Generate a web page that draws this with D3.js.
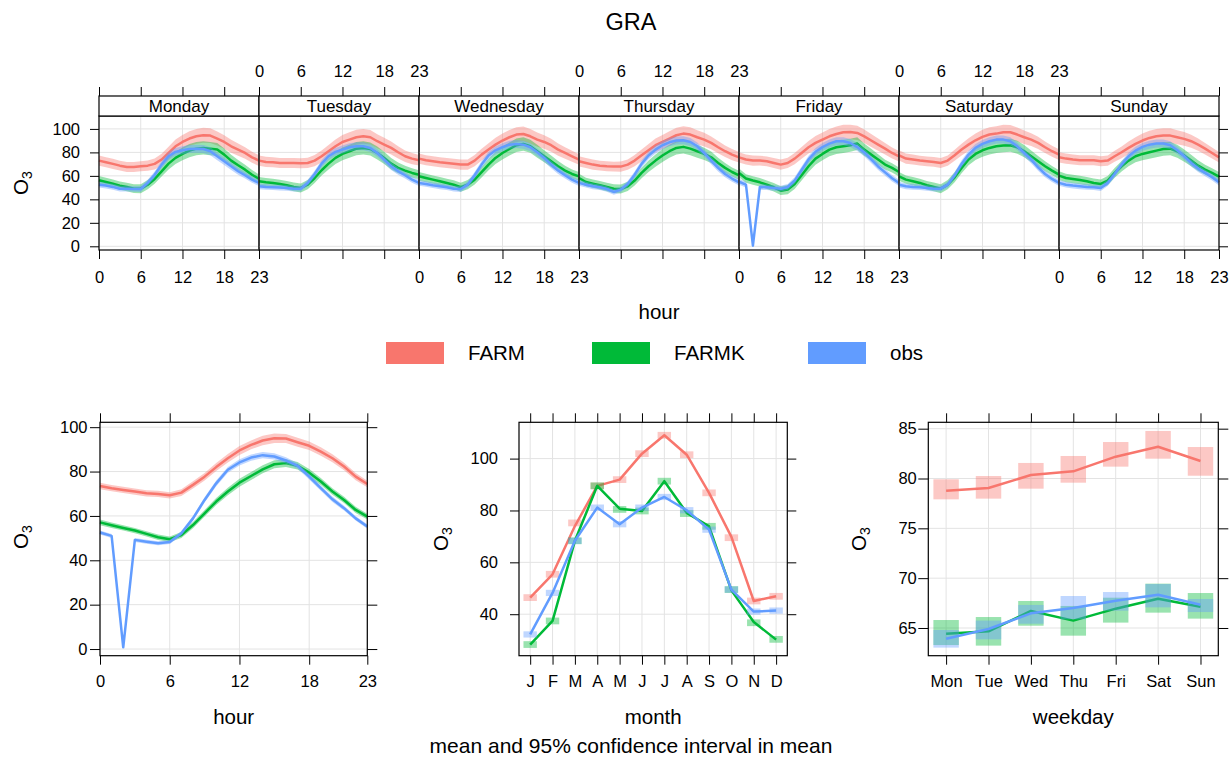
<!DOCTYPE html>
<html>
<head>
<meta charset="utf-8">
<script src="https://cdn.jsdelivr.net/npm/d3@7"></script>
<style>
  body { margin: 0; background: #fff; }
  svg text { font-family: "Liberation Sans", Arial, Helvetica, sans-serif; fill: #000; }
</style>
</head>
<body>
<svg id="chart" width="1232" height="758"></svg>
<script>
// ---------------------------------------------------------------------------
// Data: mean ozone (O3) by hour/weekday/month for two model runs and observations
// ---------------------------------------------------------------------------
const seriesNames  = ["FARM", "FARMK", "obs"];
const seriesColors = ["#F8766D", "#00BA38", "#619CFF"];
const dayNames     = ["Monday", "Tuesday", "Wednesday", "Thursday", "Friday", "Saturday", "Sunday"];
const dayAbbr      = ["Mon", "Tue", "Wed", "Thu", "Fri", "Sat", "Sun"];
const monthAbbr    = ["J", "F", "M", "A", "M", "J", "J", "A", "S", "O", "N", "D"];
const hourTicks    = [0, 6, 12, 18, 23];
const topYTicks    = [0, 20, 40, 60, 80, 100];
const hourYTicks   = [0, 20, 40, 60, 80, 100];
const monthYTicks  = [40, 60, 80, 100];
const weekdayYTicks = [65, 70, 75, 80, 85];

// hour-of-week means, one row per weekday (Mon..Sun), hours 0..23
const farmWeekHour = [
  73.0,71.6,70.2,68.7,67.6,67.6,68.2,68.7,70.2,73.9,79.5,85.2,88.9,91.8,93.7,94.6,94.3,91.8,88.9,85.2,82.4,79.5,75.8,73.0,
  73.0,71.9,71.6,71.0,71.0,71.0,70.7,71.0,73.0,76.7,81.0,85.2,88.9,90.9,92.9,93.7,92.9,89.5,86.6,83.8,80.1,76.7,74.7,73.3,
  74.7,73.3,72.4,71.6,71.0,70.3,69.6,69.6,73.0,78.1,82.4,86.6,90.1,92.9,95.2,95.7,93.7,90.9,88.9,86.1,82.4,79.5,76.7,73.9,
  72.4,71.0,69.6,68.7,68.2,67.9,67.9,69.6,73.0,77.5,81.8,86.1,88.9,91.8,94.6,96.0,95.2,92.9,90.9,88.1,84.4,81.0,78.1,75.8,
  75.8,73.9,73.0,73.0,72.4,71.0,69.6,71.0,74.7,79.5,84.4,88.1,90.9,93.7,95.7,97.2,97.4,96.6,93.7,90.1,86.6,83.2,79.5,76.7,
  77.5,74.7,73.9,73.0,72.4,71.9,71.0,73.0,77.5,82.4,86.6,90.3,93.2,95.2,96.0,97.2,97.2,95.2,92.9,90.9,88.1,84.4,81.0,78.1,
  75.8,74.7,73.9,73.3,73.3,73.3,72.4,73.0,76.7,80.1,83.8,87.2,90.1,92.3,93.7,94.3,94.3,92.9,91.5,89.5,86.6,83.2,79.5,75.8
];
const farmkWeekHour = [
  56.2,54.8,53.4,51.7,50.6,49.1,49.1,52.5,57.4,63.9,70.4,75.3,78.7,81.5,83.2,83.8,83.2,82.4,78.1,73.0,69.0,65.3,61.0,57.4,
  55.4,54.5,54.0,53.1,52.0,50.6,49.7,52.5,58.2,64.8,70.4,75.3,78.7,81.0,83.2,83.8,82.9,79.5,75.3,70.4,66.8,64.5,62.5,61.0,
  59.6,58.2,56.8,55.4,54.0,52.5,50.3,52.5,56.8,63.1,69.6,75.3,79.5,82.9,86.1,87.2,85.2,81.0,76.7,72.4,68.2,64.5,61.6,59.6,
  58.2,54.8,53.4,52.0,50.6,49.1,48.8,51.1,56.0,62.5,68.2,73.0,77.3,81.0,83.8,84.7,83.2,81.0,78.7,75.8,71.0,66.8,63.3,60.5,
  62.5,57.7,56.0,54.5,52.5,50.3,47.4,48.3,53.1,60.5,68.2,74.7,78.7,82.4,84.4,85.2,86.1,87.5,82.4,78.1,73.9,69.6,66.8,63.3,
  59.6,56.8,55.4,54.0,52.0,50.6,49.1,52.5,58.8,66.8,73.9,78.7,81.8,83.8,85.2,85.8,86.1,84.4,81.0,76.7,72.4,68.2,64.5,61.0,
  60.2,58.2,57.4,56.5,55.4,54.0,53.1,56.0,62.5,68.2,73.0,76.7,78.7,80.1,81.5,82.9,83.2,81.0,77.3,73.0,68.7,65.3,62.5,59.4
];
const obsWeekHour = [
  52.5,51.7,50.6,49.1,49.1,48.8,48.8,54.0,61.0,69.6,76.7,80.4,81.8,82.9,83.2,82.9,81.0,76.7,72.4,68.2,63.9,60.5,56.8,54.0,
  51.1,50.6,50.3,50.0,49.7,49.1,49.1,54.0,61.6,70.4,76.7,80.4,82.4,84.4,85.2,85.2,83.8,79.5,73.9,68.2,63.9,60.5,56.8,54.0,
  54.0,53.1,52.0,51.1,50.3,49.1,48.8,52.5,60.5,69.6,77.3,81.8,84.4,86.6,87.2,86.6,84.4,80.1,75.3,69.6,64.5,60.5,56.8,54.0,
  54.0,52.5,51.1,50.3,48.8,46.3,48.3,53.1,61.0,70.2,77.3,82.4,86.1,88.6,90.1,90.3,88.9,85.2,79.5,73.0,66.8,61.6,57.7,54.5,
  55.0,52.5, 0.5,50.5,50.3,49.7,49.1,50.5,56.0,65.0,74.0,80.5,84.5,87.5,89.5,89.5,88.0,84.5,80.0,74.0,68.0,63.0,58.0,54.0,
  52.5,51.1,50.6,50.3,49.7,49.1,49.1,52.5,60.5,70.2,78.1,83.8,87.2,89.5,90.9,90.9,89.5,85.2,79.5,73.9,67.3,61.6,57.4,54.0,
  54.0,52.5,51.7,51.1,50.6,50.3,49.7,54.0,61.6,69.6,76.7,81.5,84.7,86.6,87.5,87.5,86.1,81.8,76.7,71.0,66.2,62.5,58.8,54.5
];
// 95% CI half-widths by hour of day for the hour-of-week means
const ciFarmTop  = [4.4,4.3,4.3,4.2,4.2,4.2,4.3,4.4,4.7,5.0,5.4,5.8,6.0,6.2,6.3,6.3,6.2,6.0,5.8,5.5,5.2,4.9,4.7,4.5];
const ciFarmkTop = [3.7,3.6,3.6,3.6,3.6,3.7,3.8,3.9,4.2,4.5,4.9,5.2,5.5,5.6,5.7,5.7,5.6,5.5,5.2,4.9,4.5,4.2,3.9,3.8];
const ciObsTop   = [2.5,2.4,2.4,2.4,2.4,2.4,2.5,2.6,2.8,3.0,3.2,3.3,3.4,3.4,3.4,3.4,3.4,3.3,3.2,3.1,3.0,2.8,2.7,2.6];
// [weekday index, hour] cells where no interval could be computed
const obsNoCI = [[4, 2]];

// diurnal means (all days)
const farmHour  = [73.5,72.5,71.7,71.0,70.2,69.9,69.3,70.5,74.0,77.7,82.0,86.0,89.5,92.0,94.0,95.0,94.9,93.2,91.6,89.0,86.0,82.3,77.7,74.4];
const farmkHour = [57.1,55.8,54.6,53.4,51.9,50.4,49.5,51.4,55.9,61.2,66.5,71.0,75.0,78.0,81.0,83.3,83.8,82.6,79.5,75.5,71.0,67.2,62.7,59.7];
const obsHour   = [52.5,51.0, 0.8,49.2,48.4,47.7,48.3,52.2,58.9,67.2,74.7,80.8,84.1,86.3,87.4,86.8,85.0,82.6,77.7,72.5,67.5,63.5,58.9,55.2];
const ciFarmHour  = [1.5,1.4,1.4,1.4,1.4,1.4,1.4,1.5,1.6,1.7,1.8,1.9,2.0,2.0,2.1,2.1,2.0,2.0,1.9,1.9,1.8,1.7,1.6,1.5];
const ciFarmkHour = [1.3,1.2,1.2,1.2,1.2,1.2,1.2,1.3,1.4,1.5,1.6,1.7,1.8,1.8,1.8,1.8,1.8,1.7,1.7,1.6,1.5,1.4,1.4,1.3];
const ciObsHour   = [0.9,0.9,null,0.9,0.9,0.9,0.9,1.0,1.1,1.2,1.3,1.3,1.4,1.4,1.4,1.4,1.4,1.3,1.3,1.2,1.2,1.1,1.0,1.0];

// monthly means and 95% intervals
const farmMonth    = [46.4,55.4,74.0,89.5,91.9,101.9,109.0,101.5,86.8,69.8,45.1,46.9];
const farmMonthLo  = [45.1,54.1,73.9,88.2,90.6,100.6,107.7,100.2,85.5,68.2,43.8,45.6];
const farmMonthHi  = [47.7,56.7,76.5,90.8,93.2,103.2,110.3,102.8,88.1,70.8,46.4,48.2];
const farmkMonth   = [28.3,37.4,68.3,89.5,80.7,79.8,91.3,79.1,73.9,49.2,37.0,30.2];
const farmkMonthLo = [27.0,36.1,67.0,88.2,79.1,78.5,90.0,77.5,72.6,48.2,35.4,29.0];
const farmkMonthHi = [29.6,38.7,69.6,90.8,81.7,81.1,92.6,80.1,75.2,50.8,38.0,31.6];
const obsMonth     = [32.2,48.2,68.3,81.1,74.7,81.1,85.2,80.1,72.6,49.5,41.0,41.4];
const obsMonthLo   = [31.0,47.0,67.1,79.9,73.5,79.9,84.0,78.9,71.4,48.3,39.8,40.2];
const obsMonthHi   = [33.4,49.4,69.5,82.3,75.9,82.3,86.4,81.3,73.8,50.7,42.2,42.6];

// weekday means and 95% intervals
const farmWeekday    = [78.78,79.05,80.35,80.72,82.19,83.19,81.76];
const farmWeekdayLo  = [77.91,77.98,78.98,79.58,81.19,81.99,80.28];
const farmWeekdayHi  = [79.92,80.25,81.56,82.26,83.66,84.77,83.16];
const farmkWeekday   = [64.43,64.67,66.71,65.74,66.94,67.94,67.14];
const farmkWeekdayLo = [63.29,63.23,65.23,64.23,65.54,66.54,65.94];
const farmkWeekdayHi = [65.80,66.10,67.71,67.21,68.04,69.45,68.51];
const obsWeekday     = [63.93,64.90,66.47,67.01,67.74,68.34,67.34];
const obsWeekdayLo   = [63.03,63.86,65.43,65.87,66.74,67.07,66.60];
const obsWeekdayHi   = [64.80,65.74,67.31,68.21,68.61,69.41,67.91];

// ---------------------------------------------------------------------------
const svg = d3.select("#chart");
const GRID = "#e3e3e3";
const LINE_W = 2.5;
const BAND_OPACITY = 0.4;
const TICK_FS = 16.5;
const LABEL_FS = 20.5;

svg.append("rect").attr("width", 1232).attr("height", 758).attr("fill", "#fff");

function cleanAxis(g, fs) {
  g.attr("font-family", null).attr("font-size", fs || TICK_FS);
  g.select(".domain").remove();
  g.selectAll(".tick line").attr("stroke", "#000").attr("stroke-width", 1);
  g.selectAll(".tick text").attr("fill", "#000");
}

function o3Label(x, y) {
  const t = svg.append("text")
    .attr("transform", `translate(${x},${y}) rotate(-90)`)
    .attr("text-anchor", "middle")
    .attr("font-size", LABEL_FS);
  t.append("tspan").text("O");
  t.append("tspan").attr("font-size", 14).attr("dy", "0.32em").text("3");
}

// ===================== hour-of-week panel (top) ===========================
const topL = 99, dayW = 160, topT = 116, topB = 250, stripT = 96;
const yTop = d3.scaleLinear().domain([-3.15, 111]).range([topB, topT]);
const topSeries = [
  { mean: farmWeekHour,  ci: ciFarmTop,  noCI: [] },
  { mean: farmkWeekHour, ci: ciFarmkTop, noCI: [] },
  { mean: obsWeekHour,   ci: ciObsTop,   noCI: obsNoCI }
];
const gTop = svg.append("g");

dayNames.forEach((day, d) => {
  const x0 = topL + d * dayW;
  const xd = d3.scaleLinear().domain([0, 23]).range([x0, x0 + dayW]);
  const pg = gTop.append("g");

  // reference grid
  pg.selectAll("line.gy").data(topYTicks).join("line")
    .attr("x1", x0).attr("x2", x0 + dayW)
    .attr("y1", v => yTop(v)).attr("y2", v => yTop(v))
    .attr("stroke", GRID).attr("stroke-width", 1);
  pg.selectAll("line.gx").data(hourTicks).join("line")
    .attr("x1", h => xd(h)).attr("x2", h => xd(h))
    .attr("y1", topT).attr("y2", topB)
    .attr("stroke", GRID).attr("stroke-width", 1);

  const hrs = d3.range(24);
  topSeries.forEach((s, k) => {
    const vals = s.mean.slice(d * 24, d * 24 + 24);
    const missing = new Set(s.noCI.filter(c => c[0] === d).map(c => c[1]));
    const band = d3.area()
      .defined(h => !missing.has(h))
      .x(h => xd(h))
      .y0(h => yTop(vals[h] - s.ci[h]))
      .y1(h => yTop(vals[h] + s.ci[h]));
    pg.append("path").attr("d", band(hrs))
      .attr("fill", seriesColors[k]).attr("fill-opacity", BAND_OPACITY).attr("stroke", "none");
    const line = d3.line().x(h => xd(h)).y(h => yTop(vals[h]));
    pg.append("path").attr("d", line(hrs))
      .attr("fill", "none").attr("stroke", seriesColors[k])
      .attr("stroke-width", LINE_W).attr("stroke-linejoin", "round");
  });

  // panel frame and strip
  pg.append("rect").attr("x", x0).attr("y", topT).attr("width", dayW).attr("height", topB - topT)
    .attr("fill", "none").attr("stroke", "#000").attr("stroke-width", 1.2);
  pg.append("rect").attr("x", x0).attr("y", stripT).attr("width", dayW).attr("height", topT - stripT)
    .attr("fill", "#fff").attr("stroke", "#000").attr("stroke-width", 1.2);
  pg.append("text").attr("x", x0 + dayW / 2).attr("y", 112)
    .attr("text-anchor", "middle").attr("font-size", 17).text(day);

  // x axes: labels alternate between bottom (Mon, Wed, Fri, Sun) and top (Tue, Thu, Sat)
  const bottomAx = d3.axisBottom(xd).tickValues(hourTicks).tickSize(9).tickPadding(12)
    .tickFormat(d % 2 === 0 ? d3.format("d") : () => "");
  cleanAxis(pg.append("g").attr("transform", `translate(0,${topB})`).call(bottomAx));
  const topAx = d3.axisTop(xd).tickValues(hourTicks).tickSize(9).tickPadding(10)
    .tickFormat(d % 2 === 1 ? d3.format("d") : () => "");
  cleanAxis(pg.append("g").attr("transform", `translate(0,${stripT})`).call(topAx));
});

cleanAxis(gTop.append("g").attr("transform", `translate(${topL},0)`)
  .call(d3.axisLeft(yTop).tickValues(topYTicks).tickSize(9).tickPadding(10)));
cleanAxis(gTop.append("g").attr("transform", `translate(${topL + 7 * dayW},0)`)
  .call(d3.axisRight(yTop).tickValues(topYTicks).tickSize(9).tickFormat(() => "")));

o3Label(28, 183);
svg.append("text").attr("x", 659).attr("y", 319).attr("text-anchor", "middle")
  .attr("font-size", LABEL_FS).text("hour");

// title
svg.append("text").attr("x", 631).attr("y", 30).attr("text-anchor", "middle")
  .attr("font-size", 23.5).text("GRA");

// legend
const legX = [386, 592, 808];
seriesNames.forEach((name, k) => {
  svg.append("rect").attr("x", legX[k]).attr("y", 342).attr("width", 58).attr("height", 22)
    .attr("fill", seriesColors[k]);
  svg.append("text").attr("x", legX[k] + 82).attr("y", 360)
    .attr("font-size", LABEL_FS).text(name);
});

// ===================== bottom panels =====================================
const botT = 422.3, botB = 655.7;

function frameGrid(g, x, y, xl, xr, xTicks, yTicks) {
  g.selectAll("line.gy").data(yTicks).join("line")
    .attr("x1", xl).attr("x2", xr).attr("y1", v => y(v)).attr("y2", v => y(v))
    .attr("stroke", GRID).attr("stroke-width", 1);
  g.selectAll("line.gx").data(xTicks).join("line")
    .attr("x1", v => x(v)).attr("x2", v => x(v)).attr("y1", botT).attr("y2", botB)
    .attr("stroke", GRID).attr("stroke-width", 1);
}
function frameOverlay(g, x, y, xl, xr, xTicks, xFmt, yTicks, yPad, ySize) {
  g.append("rect").attr("x", xl).attr("y", botT).attr("width", xr - xl).attr("height", botB - botT)
    .attr("fill", "none").attr("stroke", "#000").attr("stroke-width", 1.2);
  cleanAxis(g.append("g").attr("transform", `translate(0,${botB})`)
    .call(d3.axisBottom(x).tickValues(xTicks).tickSize(9).tickPadding(11).tickFormat(xFmt)));
  cleanAxis(g.append("g").attr("transform", `translate(0,${botT})`)
    .call(d3.axisTop(x).tickValues(xTicks).tickSize(9).tickFormat(() => "")));
  cleanAxis(g.append("g").attr("transform", `translate(${xl},0)`)
    .call(d3.axisLeft(y).tickValues(yTicks).tickSize(ySize).tickPadding(yPad)));
  cleanAxis(g.append("g").attr("transform", `translate(${xr},0)`)
    .call(d3.axisRight(y).tickValues(yTicks).tickSize(ySize).tickFormat(() => "")));
}

// ---- hour panel ----
{
  const xl = 100, xr = 367.3;
  const x = d3.scaleLinear().domain([0, 23]).range([xl, xr]);
  const y = d3.scaleLinear().domain([-3.0, 102.2]).range([botB, botT]);
  const g = svg.append("g");
  frameGrid(g, x, y, xl, xr, hourTicks, hourYTicks);
  const hrs = d3.range(24);
  [[farmHour, ciFarmHour], [farmkHour, ciFarmkHour], [obsHour, ciObsHour]].forEach(([m, ci], k) => {
    const band = d3.area().defined(h => ci[h] != null)
      .x(h => x(h)).y0(h => y(m[h] - ci[h])).y1(h => y(m[h] + ci[h]));
    g.append("path").attr("d", band(hrs))
      .attr("fill", seriesColors[k]).attr("fill-opacity", BAND_OPACITY);
    g.append("path").attr("d", d3.line().x(h => x(h)).y(h => y(m[h]))(hrs))
      .attr("fill", "none").attr("stroke", seriesColors[k]).attr("stroke-width", LINE_W)
      .attr("stroke-linejoin", "round");
  });
  frameOverlay(g, x, y, xl, xr, hourTicks, d3.format("d"), hourYTicks, 2.5, 10);
  o3Label(28, 537);
  svg.append("text").attr("x", (xl + xr) / 2).attr("y", 724).attr("text-anchor", "middle")
    .attr("font-size", LABEL_FS).text("hour");
}

// boxes + line for categorical panels
function drawCategorical(g, x, y, means, los, his, boxW) {
  const idx = d3.range(means[0].length);
  means.forEach((m, k) => {
    g.selectAll(null).data(idx).join("rect")
      .attr("x", i => x(i + 1 - boxW / 2))
      .attr("width", i => x(i + 1 + boxW / 2) - x(i + 1 - boxW / 2))
      .attr("y", i => y(his[k][i]))
      .attr("height", i => y(los[k][i]) - y(his[k][i]))
      .attr("fill", seriesColors[k]).attr("fill-opacity", BAND_OPACITY);
    g.append("path").attr("d", d3.line().x(i => x(i + 1)).y(i => y(m[i]))(idx))
      .attr("fill", "none").attr("stroke", seriesColors[k]).attr("stroke-width", LINE_W)
      .attr("stroke-linejoin", "round");
  });
}

// ---- month panel ----
{
  const xl = 519, xr = 787.3;
  const x = d3.scaleLinear().domain([0.5, 12.5]).range([xl, xr]);
  const y = d3.scaleLinear().domain([24.0, 114.0]).range([botB, botT]);
  const g = svg.append("g");
  const mt = d3.range(1, 13);
  const fmt = v => monthAbbr[v - 1];
  frameGrid(g, x, y, xl, xr, mt, monthYTicks);
  drawCategorical(g, x, y,
    [farmMonth, farmkMonth, obsMonth],
    [farmMonthLo, farmkMonthLo, obsMonthLo],
    [farmMonthHi, farmkMonthHi, obsMonthHi], 0.6);
  frameOverlay(g, x, y, xl, xr, mt, fmt, monthYTicks, 12, 9);
  o3Label(448, 539);
  svg.append("text").attr("x", (xl + xr) / 2).attr("y", 724).attr("text-anchor", "middle")
    .attr("font-size", LABEL_FS).text("month");
}

// ---- weekday panel ----
{
  const xl = 928.3, xr = 1218.3;
  const x = d3.scaleLinear().domain([0.58, 7.42]).range([xl, xr]);
  const y = d3.scaleLinear().domain([62.22, 85.64]).range([botB, botT]);
  const g = svg.append("g");
  const wt = d3.range(1, 8);
  const fmt = v => dayAbbr[v - 1];
  frameGrid(g, x, y, xl, xr, wt, weekdayYTicks);
  drawCategorical(g, x, y,
    [farmWeekday, farmkWeekday, obsWeekday],
    [farmWeekdayLo, farmkWeekdayLo, obsWeekdayLo],
    [farmWeekdayHi, farmkWeekdayHi, obsWeekdayHi], 0.6);
  frameOverlay(g, x, y, xl, xr, wt, fmt, weekdayYTicks, 1.5, 10);
  o3Label(866, 539);
  svg.append("text").attr("x", (xl + xr) / 2).attr("y", 724).attr("text-anchor", "middle")
    .attr("font-size", LABEL_FS).text("weekday");
}

svg.append("text").attr("x", 631).attr("y", 753).attr("text-anchor", "middle")
  .attr("font-size", 21).text("mean and 95% confidence interval in mean");
</script>
</body>
</html>
